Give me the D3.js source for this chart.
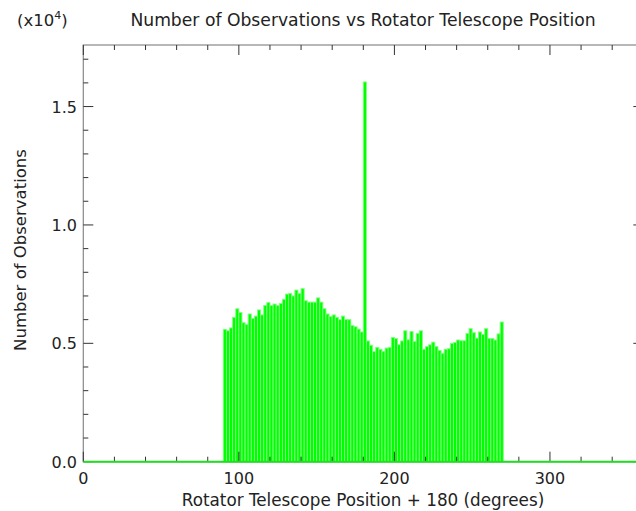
<!DOCTYPE html>
<html>
<head>
<meta charset="utf-8">
<script src="https://cdn.jsdelivr.net/npm/d3@7"></script>
<style>
body{margin:0;background:#fff;}
text{font-family:"DejaVu Sans",sans-serif;fill:#222;}
</style>
</head>
<body>
<svg id="chart" width="636" height="511"></svg>
<script>
// histogram: 2 degree bins from 90 to 270, counts in units of 1e4
var binStart=90, binWidth=2;
var counts=[0.559,0.553,0.565,0.610,0.646,0.630,0.587,0.580,0.624,0.605,
  0.615,0.641,0.620,0.660,0.672,0.660,0.666,0.660,0.668,0.686,
  0.708,0.711,0.700,0.725,0.711,0.731,0.680,0.674,0.674,0.674,
  0.692,0.674,0.646,0.624,0.613,0.620,0.610,0.600,0.615,0.601,
  0.600,0.575,0.570,0.560,0.548,1.604,0.510,0.492,0.465,0.483,
  0.475,0.466,0.480,0.483,0.525,0.520,0.494,0.510,0.553,0.515,
  0.550,0.508,0.542,0.553,0.475,0.486,0.494,0.505,0.486,0.470,
  0.458,0.475,0.477,0.500,0.503,0.514,0.511,0.511,0.542,0.562,
  0.545,0.522,0.548,0.537,0.562,0.520,0.520,0.514,0.540,0.590];
var xMajor=[0,100,200,300];
var yMajor=[0,0.5,1.0,1.5];
var xMinor=d3.range(0,361,20);
var yMinor=d3.range(0,1.75,0.1);

var svg=d3.select("#chart");
var pl=83.3, pr=643.3, pt=45, pb=461.7;
var x=d3.scaleLinear().domain([0,360]).range([pl,pr]);
var y=d3.scaleLinear().domain([0,1.76]).range([pb,pt]);

// bars
svg.append("g").selectAll("rect")
  .data(counts)
  .enter().append("rect")
  .attr("x",function(d,i){return x(binStart+i*binWidth);})
  .attr("width",function(d,i){return x(binStart+(i+1)*binWidth)-x(binStart+i*binWidth);})
  .attr("y",function(d){return y(d);})
  .attr("height",function(d){return y(0)-y(d);})
  .attr("fill","#00ff00")
  .attr("stroke","#80ff80")
  .attr("stroke-width",0.9);

// frame
var frameCol="#888";
svg.append("rect").attr("x",pl).attr("y",pt).attr("width",pr-pl).attr("height",pb-pt)
  .attr("fill","none").attr("stroke",frameCol).attr("stroke-width",1.2);

// ticks
var tk=svg.append("g").attr("stroke","#333").attr("stroke-width",1);
xMinor.forEach(function(v){
  var len=(xMajor.indexOf(v)>=0)?10:5;
  tk.append("line").attr("x1",x(v)).attr("x2",x(v)).attr("y1",pb).attr("y2",pb-len);
  tk.append("line").attr("x1",x(v)).attr("x2",x(v)).attr("y1",pt).attr("y2",pt+len);
});
yMinor.forEach(function(v){
  var major=yMajor.some(function(m){return Math.abs(m-v)<1e-6;});
  var len=major?10:5;
  tk.append("line").attr("x1",pl).attr("x2",pl+len).attr("y1",y(v)).attr("y2",y(v));
  tk.append("line").attr("x1",pr).attr("x2",pr-len).attr("y1",y(v)).attr("y2",y(v));
});

// zero line of the histogram
svg.append("line").attr("x1",pl).attr("x2",636).attr("y1",y(0)).attr("y2",y(0))
  .attr("stroke","#22dd22").attr("stroke-width",2);

// tick labels
svg.append("g").selectAll("text").data(xMajor).enter().append("text")
  .attr("x",function(d){return x(d);}).attr("y",484)
  .attr("text-anchor","middle").attr("font-size",16).text(function(d){return d;});
svg.append("g").selectAll("text").data(yMajor).enter().append("text")
  .attr("x",77).attr("y",function(d){return y(d)+6;})
  .attr("text-anchor","end").attr("font-size",16).text(function(d){return d3.format(".1f")(d);});

// titles
svg.append("text").attr("x",363).attr("y",26).attr("text-anchor","middle")
  .attr("font-size",17.2).text("Number of Observations vs Rotator Telescope Position");
var ex=svg.append("text").attr("x",17).attr("y",26).attr("font-size",16.5);
ex.append("tspan").text("(x10");
ex.append("tspan").attr("dy",-7).attr("font-size",11).text("4");
ex.append("tspan").attr("dy",7).text(")");
svg.append("text").attr("x",363).attr("y",506).attr("text-anchor","middle")
  .attr("font-size",16.8).text("Rotator Telescope Position + 180 (degrees)");
svg.append("text").attr("transform","translate(26,250) rotate(-90)").attr("text-anchor","middle")
  .attr("font-size",16.5).text("Number of Observations");
</script>
</body>
</html>
